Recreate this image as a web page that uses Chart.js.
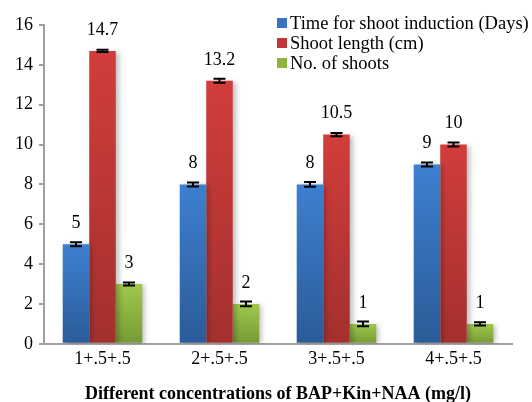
<!DOCTYPE html>
<html>
<head>
<meta charset="utf-8">
<script src="https://cdn.jsdelivr.net/npm/chart.js@4.4.1/dist/chart.umd.min.js"></script>
<style>
  html, body { margin: 0; padding: 0; background: #fff; }
  #wrap { width: 532px; height: 402px; position: relative; }
</style>
</head>
<body>
<div id="wrap"><canvas id="chart"></canvas></div>
<script>
// data
var categories = ['1+.5+.5', '2+.5+.5', '3+.5+.5', '4+.5+.5'];
var timeInduction = [5, 8, 8, 9];
var shootLength = [14.7, 13.2, 10.5, 10];
var noShoots = [3, 2, 1, 1];
var timeErr = [0.1, 0.1, 0.12, 0.1];
var lengthErr = [0.06, 0.1, 0.08, 0.1];
var shootsErr = [0.08, 0.12, 0.12, 0.08];
var yTicks = [0, 2, 4, 6, 8, 10, 12, 14, 16];

var serif = '"Liberation Serif", "Times New Roman", serif';

function barGradient(top, bottom) {
    return function (context) {
        var chart = context.chart;
        var area = chart.chartArea;
        if (!area) return top;
        var y = chart.scales.y;
        var v = context.raw;
        var y0 = y.getPixelForValue(v);
        var y1 = y.getPixelForValue(0);
        if (y1 - y0 < 1) return top;
        var g = chart.ctx.createLinearGradient(0, y0, 0, y1);
        g.addColorStop(0, top);
        g.addColorStop(1, bottom);
        return g;
    };
}

function createDataSet(label, data, errors, top, bottom, legendColor) {
    return {
        label: label,
        data: data,
        errors: errors,
        backgroundColor: barGradient(top, bottom),
        legendColor: legendColor,
        borderWidth: 0,
        categoryPercentage: 0.68,
        barPercentage: 1.0
    };
}

var errorBarsPlugin = {
    id: 'errorBars',
    afterDatasetsDraw: function (chart) {
        var ctx = chart.ctx;
        var y = chart.scales.y;
        ctx.save();
        chart.data.datasets.forEach(function (ds, i) {
            var meta = chart.getDatasetMeta(i);
            meta.data.forEach(function (bar, j) {
                var v = ds.data[j];
                var e = ds.errors[j];
                var x = bar.x;
                var yt = y.getPixelForValue(v + e);
                var yb = y.getPixelForValue(v - e);
                ctx.strokeStyle = '#000';
                ctx.lineWidth = 2;
                ctx.beginPath();
                ctx.moveTo(x, yt); ctx.lineTo(x, yb);
                ctx.moveTo(x - 6, yt); ctx.lineTo(x + 6, yt);
                ctx.moveTo(x - 6, yb); ctx.lineTo(x + 6, yb);
                ctx.stroke();
                // value label
                ctx.fillStyle = '#000';
                ctx.font = '18px ' + serif;
                ctx.textAlign = 'center';
                ctx.textBaseline = 'middle';
                ctx.fillText(String(v), x, y.getPixelForValue(v) - 21);
            });
        });
        ctx.restore();
    }
};

var legendPlugin = {
    id: 'insideLegend',
    afterDraw: function (chart) {
        var ctx = chart.ctx;
        ctx.save();
        ctx.font = '18.5px ' + serif;
        ctx.textAlign = 'left';
        ctx.textBaseline = 'middle';
        chart.data.datasets.forEach(function (ds, i) {
            var yy = 23 + i * 20;
            ctx.fillStyle = ds.legendColor;
            ctx.fillRect(277, yy - 5, 10, 10);
            ctx.fillStyle = '#000';
            ctx.fillText(ds.label, 290, yy + 1);
        });
        ctx.restore();
    }
};

var shadowPlugin = {
    id: 'barShadow',
    beforeDatasetsDraw: function (chart) {
        chart.ctx.save();
        chart.ctx.shadowColor = 'rgba(0,0,0,0.25)';
        chart.ctx.shadowBlur = 5;
        chart.ctx.shadowOffsetX = 3;
        chart.ctx.shadowOffsetY = 1;
    },
    afterDatasetsDraw: function (chart) {
        chart.ctx.restore();
    }
};

var datasets = [
    createDataSet('Time for shoot induction (Days)', timeInduction, timeErr, '#3d80d0', '#2b5b98', '#3872c0'),
    createDataSet('Shoot length (cm)', shootLength, lengthErr, '#d13d3a', '#a3302e', '#c23836'),
    createDataSet('No. of shoots', noShoots, shootsErr, '#a0c84c', '#769a35', '#8db43f')
];

var ctx = document.getElementById('chart').getContext('2d');
var chart = new Chart(ctx, {
    type: 'bar',
    data: { labels: categories, datasets: datasets },
    plugins: [shadowPlugin, errorBarsPlugin, legendPlugin],
    options: {
        responsive: true,
        maintainAspectRatio: false,
        animation: false,
        layout: { padding: { left: 9, right: 20, top: 25, bottom: -3 } },
        plugins: {
            legend: { display: false },
            tooltip: { enabled: false }
        },
        scales: {
            x: {
                grid: { display: false, drawTicks: false },
                border: { color: '#a0a0a0', width: 2 },
                ticks: { color: '#000', font: { family: serif, size: 18 }, padding: 5 },
                title: {
                    display: true,
                    text: 'Different concentrations of BAP+Kin+NAA (mg/l)',
                    color: '#000',
                    font: { family: serif, size: 18, weight: 'bold' },
                    padding: { top: 8, bottom: 0 }
                }
            },
            y: {
                min: 0,
                max: 16,
                afterBuildTicks: function (axis) {
                    axis.ticks = yTicks.map(function (v) { return { value: v }; });
                },
                grid: { display: true, drawOnChartArea: false, drawTicks: true, tickLength: 5, color: '#a0a0a0', lineWidth: 2 },
                border: { color: '#a0a0a0', width: 2 },
                ticks: { color: '#000', font: { family: serif, size: 18 }, padding: 6 }
            }
        }
    }
});
</script>
</body>
</html>
